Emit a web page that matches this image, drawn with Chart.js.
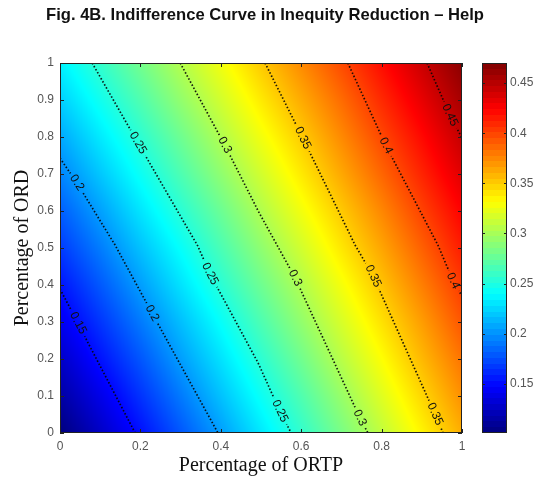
<!DOCTYPE html>
<html><head><meta charset="utf-8">
<script src="https://cdn.jsdelivr.net/npm/chart.js@4.4.0/dist/chart.umd.min.js"></script>
<style>
html,body{margin:0;padding:0;background:#fff;}
#wrap{position:relative;width:543px;height:480px;overflow:hidden;}
#main{position:absolute;left:0;top:0;}
#cbar{position:absolute;left:470px;top:0;}
</style></head><body>
<div id="wrap"><canvas id="main" width="543" height="480"></canvas><canvas id="cbar" width="73" height="480"></canvas></div>
<script>
// ---------- data ----------
const titleText = 'Fig. 4B. Indifference Curve in Inequity Reduction \u2013 Help';
const xAxisTitle = 'Percentage of ORTP';
const yAxisTitle = 'Percentage of ORD';
const xTicks = [0, 0.2, 0.4, 0.6, 0.8, 1];
const yTicks = [0, 0.1, 0.2, 0.3, 0.4, 0.5, 0.6, 0.7, 0.8, 0.9, 1];
const cbTicks = [0.15, 0.2, 0.25, 0.3, 0.35, 0.4, 0.45];
const cbMin = 0.101, cbMax = 0.47;

// value grid (rows: y = 0 ... 1, columns: x = 0 ... 1)
const xGrid = [0, 0.1, 0.2, 0.3, 0.4, 0.5, 0.6, 0.7, 0.8, 0.9, 1];
const yGrid = [0, 0.1, 0.2, 0.3, 0.4, 0.5, 0.6, 0.7, 0.8, 0.9, 1];
const zGrid = [
  [0.100,0.126,0.152,0.178,0.204,0.231,0.257,0.283,0.309,0.335,0.361],
  [0.114,0.139,0.165,0.191,0.217,0.243,0.268,0.294,0.320,0.346,0.372],
  [0.127,0.153,0.178,0.204,0.229,0.255,0.280,0.306,0.331,0.357,0.382],
  [0.141,0.166,0.191,0.216,0.241,0.267,0.292,0.317,0.342,0.367,0.393],
  [0.154,0.179,0.204,0.229,0.254,0.279,0.303,0.328,0.353,0.378,0.403],
  [0.168,0.192,0.217,0.241,0.266,0.291,0.315,0.340,0.364,0.389,0.414],
  [0.181,0.205,0.230,0.254,0.278,0.303,0.327,0.351,0.375,0.400,0.424],
  [0.195,0.219,0.243,0.267,0.291,0.315,0.339,0.363,0.387,0.411,0.435],
  [0.208,0.232,0.255,0.279,0.303,0.327,0.350,0.374,0.398,0.421,0.445],
  [0.222,0.245,0.268,0.292,0.315,0.339,0.362,0.385,0.409,0.432,0.456],
  [0.235,0.258,0.281,0.304,0.327,0.351,0.374,0.397,0.420,0.443,0.466]
];

// contour lines [x, y]
const contourLevels = [0.15, 0.2, 0.25, 0.3, 0.35, 0.4, 0.45];
const contour015 = [[0,0.389],[0.045,0.297],[0.070,0.243],[0.187,0]];
const contour020 = [[0,0.743],[0.042,0.676],[0.137,0.508],[0.229,0.324],[0.393,0]];
const contour025 = [[0.080,1],[0.194,0.784],[0.343,0.505],[0.373,0.430],[0.493,0.189],[0.547,0.059],[0.575,0]];
const contour030 = [[0.299,1],[0.410,0.778],[0.493,0.600],[0.585,0.419],[0.746,0.041],[0.766,0]];
const contour035 = [[0.510,1],[0.604,0.797],[0.734,0.508],[0.779,0.424],[0.933,0.051],[0.953,0]];
const contour040 = [[0.716,1],[0.811,0.776],[0.940,0.508],[0.978,0.411],[1,0.370]];
const contour045 = [[0.913,1],[0.970,0.859],[1,0.797]];

// contour label positions [x, y]
const labels015 = [[0.045,0.297]];
const labels020 = [[0.042,0.676],[0.229,0.324]];
const labels025 = [[0.194,0.784],[0.373,0.430],[0.547,0.059]];
const labels030 = [[0.410,0.778],[0.585,0.419],[0.746,0.041]];
const labels035 = [[0.604,0.797],[0.779,0.424],[0.933,0.051]];
const labels040 = [[0.811,0.776],[0.978,0.411]];
const labels045 = [[0.970,0.859]];

const contourPts = [contour015, contour020, contour025, contour030, contour035, contour040, contour045];
const contourLabels = [labels015, labels020, labels025, labels030, labels035, labels040, labels045];

// ---------- helpers ----------
const SANS = '"Liberation Sans", Arial, sans-serif';
const SERIF = '"Liberation Serif", "Times New Roman", serif';
function clamp01(v){ return v < 0 ? 0 : (v > 1 ? 1 : v); }
function jet(t){
  t = clamp01(t);
  return [clamp01(1.5 - Math.abs(4*t - 3)), clamp01(1.5 - Math.abs(4*t - 2)), clamp01(1.5 - Math.abs(4*t - 1))];
}
function findCell(arr, v){
  let i = 0;
  while (i < arr.length - 2 && v > arr[i+1]) i++;
  return i;
}
function bilinear(xv, yv){
  const i = findCell(xGrid, xv), j = findCell(yGrid, yv);
  const tx = clamp01((xv - xGrid[i]) / (xGrid[i+1] - xGrid[i]));
  const ty = clamp01((yv - yGrid[j]) / (yGrid[j+1] - yGrid[j]));
  const z00 = zGrid[j][i], z10 = zGrid[j][i+1], z01 = zGrid[j+1][i], z11 = zGrid[j+1][i+1];
  return z00*(1-tx)*(1-ty) + z10*tx*(1-ty) + z01*(1-tx)*ty + z11*tx*ty;
}

function labelBoxes(chart){
  const xs = chart.scales.x, ys = chart.scales.y, ctx = chart.ctx;
  ctx.save();
  ctx.font = '12px ' + SANS;
  const out = [];
  contourLabels.forEach((labs, k) => {
    const pts = contourPts[k];
    const txt = String(contourLevels[k]);
    const tw = ctx.measureText(txt).width;
    labs.forEach(l => {
      let best = 0, bd = Infinity;
      pts.forEach((p, idx) => { const d = (p[0]-l[0])**2 + (p[1]-l[1])**2; if (d < bd){ bd = d; best = idx; } });
      const a = pts[Math.max(best-1,0)], b = pts[Math.min(best+1, pts.length-1)];
      const ax = xs.getPixelForValue(a[0]), ay = ys.getPixelForValue(a[1]);
      const bx = xs.getPixelForValue(b[0]), by = ys.getPixelForValue(b[1]);
      let ang = Math.atan2(by - ay, bx - ax);
      if (ang > Math.PI/2) ang -= Math.PI;
      if (ang < -Math.PI/2) ang += Math.PI;
      out.push({txt, tw, ang, cx: xs.getPixelForValue(l[0]), cy: ys.getPixelForValue(l[1])});
    });
  });
  ctx.restore();
  return out;
}

// ---------- plugins ----------
const heatmapPlugin = {
  id: 'heatmap',
  beforeDraw(chart){
    const {ctx, chartArea: a, scales: {x, y}} = chart;
    const L = Math.round(a.left), T = Math.round(a.top);
    const w = Math.round(a.right) - L, h = Math.round(a.bottom) - T;
    const off = document.createElement('canvas');
    off.width = w; off.height = h;
    const octx = off.getContext('2d');
    const img = octx.createImageData(w, h);
    for (let j = 0; j < h; j++){
      const yv = y.getValueForPixel(T + j + 0.5);
      for (let i = 0; i < w; i++){
        const xv = x.getValueForPixel(L + i + 0.5);
        const c = jet((bilinear(xv, yv) - cbMin) / (cbMax - cbMin));
        const o = (j*w + i) * 4;
        img.data[o] = Math.round(c[0]*255);
        img.data[o+1] = Math.round(c[1]*255);
        img.data[o+2] = Math.round(c[2]*255);
        img.data[o+3] = 255;
      }
    }
    octx.putImageData(img, 0, 0);
    ctx.drawImage(off, L, T, w, h);
  }
};

const contourLabelPlugin = {
  id: 'clabels',
  beforeDatasetsDraw(chart){
    const ctx = chart.ctx;
    chart.$boxes = labelBoxes(chart);
    ctx.save();
    ctx.beginPath();
    ctx.rect(0, 0, chart.width, chart.height);
    chart.$boxes.forEach(b => {
      const hw = b.tw/2 + 3, hh = 7;
      const c = Math.cos(b.ang), s = Math.sin(b.ang);
      const corners = [[-hw,-hh],[hw,-hh],[hw,hh],[-hw,hh]].map(p => [b.cx + p[0]*c - p[1]*s, b.cy + p[0]*s + p[1]*c]);
      ctx.moveTo(corners[0][0], corners[0][1]);
      for (let i = 1; i < 4; i++) ctx.lineTo(corners[i][0], corners[i][1]);
      ctx.closePath();
    });
    ctx.clip('evenodd');
  },
  afterDatasetsDraw(chart){
    const ctx = chart.ctx;
    ctx.restore();
    ctx.save();
    ctx.fillStyle = '#111';
    ctx.font = '12px ' + SANS;
    ctx.textAlign = 'center';
    ctx.textBaseline = 'middle';
    chart.$boxes.forEach(b => {
      ctx.save();
      ctx.translate(b.cx, b.cy);
      ctx.rotate(b.ang);
      ctx.fillText(b.txt, 0, 0);
      ctx.restore();
    });
    ctx.restore();
  },
  afterDraw(chart){
    const {ctx, chartArea: a, scales: {x, y}} = chart;
    ctx.save();
    ctx.strokeStyle = '#222';
    ctx.lineWidth = 1;
    ctx.beginPath();
    const tl = 4;
    xTicks.forEach(v => {
      const px = Math.round(x.getPixelForValue(v)) + 0.5;
      ctx.moveTo(px, a.bottom); ctx.lineTo(px, a.bottom - tl);
      ctx.moveTo(px, a.top); ctx.lineTo(px, a.top + tl);
    });
    yTicks.forEach(v => {
      const py = Math.round(y.getPixelForValue(v)) + 0.5;
      ctx.moveTo(a.left, py); ctx.lineTo(a.left + tl, py);
      ctx.moveTo(a.right, py); ctx.lineTo(a.right - tl, py);
    });
    ctx.stroke();
    ctx.strokeRect(a.left + 0.5, a.top + 0.5, a.right - a.left - 1, a.bottom - a.top - 1);
    // figure title
    ctx.fillStyle = '#111';
    ctx.font = 'bold 16.6px ' + SANS;
    ctx.textAlign = 'center';
    ctx.textBaseline = 'alphabetic';
    ctx.fillText(titleText, 265, 19.5);
    ctx.restore();
  }
};

// ---------- main chart ----------
const contourDatasets = contourPts.map((pts, k) => ({
  label: String(contourLevels[k]),
  data: pts.map(p => ({x: p[0], y: p[1]})),
  showLine: true,
  borderColor: 'rgba(8,8,8,0.92)',
  borderWidth: 1.7,
  borderDash: [1.5, 2.0],
  pointRadius: 0,
  pointHoverRadius: 0,
  fill: false,
  tension: 0
}));

new Chart(document.getElementById('main'), {
  type: 'scatter',
  data: { datasets: contourDatasets },
  plugins: [heatmapPlugin, contourLabelPlugin],
  options: {
    responsive: false,
    animation: false,
    devicePixelRatio: 1,
    layout: { padding: { top: 63, right: 81, left: 0, bottom: 0 } },
    plugins: { legend: { display: false }, tooltip: { enabled: false }, title: { display: false } },
    scales: {
      x: {
        type: 'linear', min: 0, max: 1, position: 'bottom',
        afterBuildTicks: s => { s.ticks = xTicks.map(v => ({value: v})); },
        afterFit: s => { s.height = 47; },
        grid: { display: false, drawTicks: false },
        border: { display: false },
        ticks: { color: '#555', font: { family: SANS, size: 12 }, padding: 6, maxRotation: 0, autoSkip: false, callback: v => String(v) },
        title: { display: true, text: xAxisTitle, color: '#111', font: { family: SERIF, size: 20 }, padding: { top: 0, bottom: 2 } }
      },
      y: {
        type: 'linear', min: 0, max: 1, position: 'left',
        afterBuildTicks: s => { s.ticks = yTicks.map(v => ({value: v})); },
        afterFit: s => { s.width = 60; },
        grid: { display: false, drawTicks: false },
        border: { display: false },
        ticks: { color: '#555', font: { family: SANS, size: 12 }, padding: 6, autoSkip: false, callback: v => String(v) },
        title: { display: true, text: yAxisTitle, color: '#111', font: { family: SERIF, size: 20 }, padding: { top: 11, bottom: 0 } }
      }
    }
  }
});

// ---------- colour bar ----------
function cbGradient(chart){
  const a = chart.chartArea, ys = chart.scales.y;
  if (!a || !ys) return '#888';
  const g = chart.ctx.createLinearGradient(0, ys.getPixelForValue(cbMin), 0, ys.getPixelForValue(cbMax));
  const N = 64;
  for (let i = 0; i < N; i++){
    const c = jet((i + 0.5) / N);
    const col = 'rgb(' + Math.round(c[0]*255) + ',' + Math.round(c[1]*255) + ',' + Math.round(c[2]*255) + ')';
    g.addColorStop(i / N, col);
    g.addColorStop((i + 1) / N, col);
  }
  return g;
}
const cbFramePlugin = {
  id: 'cbframe',
  afterDraw(chart){
    const {ctx, chartArea: a, scales: {y}} = chart;
    ctx.save();
    ctx.strokeStyle = '#222';
    ctx.lineWidth = 1;
    ctx.beginPath();
    cbTicks.forEach(v => {
      const py = Math.round(y.getPixelForValue(v)) + 0.5;
      ctx.moveTo(a.left, py); ctx.lineTo(a.left + 3, py);
      ctx.moveTo(a.right, py); ctx.lineTo(a.right - 3, py);
    });
    ctx.stroke();
    ctx.strokeRect(a.left + 0.5, a.top + 0.5, a.right - a.left - 1, a.bottom - a.top - 1);
    ctx.restore();
  }
};
new Chart(document.getElementById('cbar'), {
  type: 'bar',
  data: { labels: ['c'], datasets: [{ data: [[cbMin, cbMax]], backgroundColor: ctx => cbGradient(ctx.chart), borderWidth: 0, barPercentage: 1, categoryPercentage: 1 }] },
  plugins: [cbFramePlugin],
  options: {
    responsive: false,
    animation: false,
    devicePixelRatio: 1,
    layout: { padding: { top: 63, bottom: 47, left: 12, right: 0 } },
    plugins: { legend: { display: false }, tooltip: { enabled: false } },
    scales: {
      x: { display: false },
      y: {
        position: 'right', min: cbMin, max: cbMax,
        afterBuildTicks: s => { s.ticks = cbTicks.map(v => ({value: v})); },
        afterFit: s => { s.width = 36; },
        grid: { display: false, drawTicks: false },
        border: { display: false },
        ticks: { color: '#555', font: { family: SANS, size: 12 }, padding: 3, autoSkip: false, callback: v => String(v) }
      }
    }
  }
});
</script>
</body></html>
